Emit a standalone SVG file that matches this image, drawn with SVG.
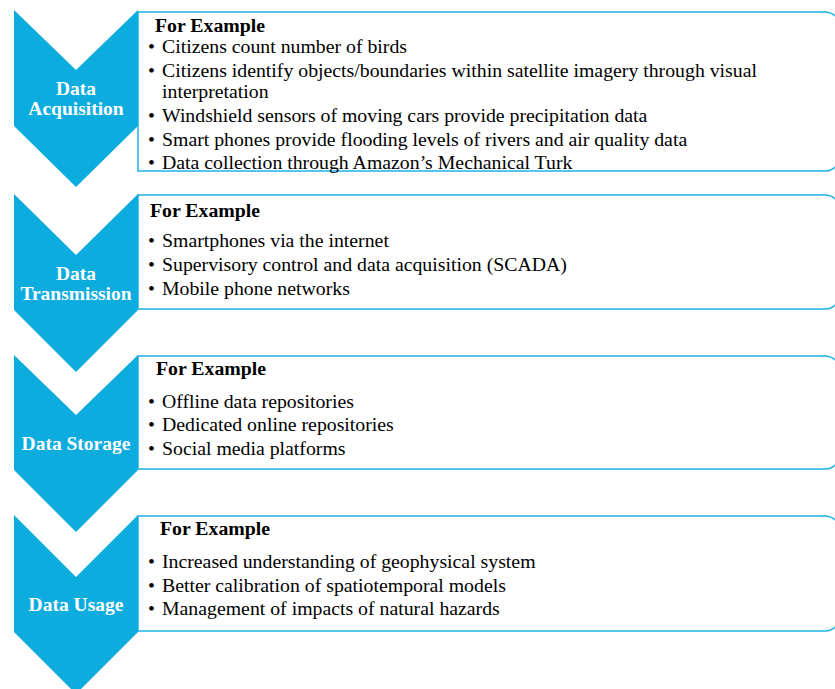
<svg xmlns="http://www.w3.org/2000/svg" width="835" height="689" viewBox="0 0 835 689">
<style>
.chev{fill:#0DACDF;stroke:none}
.box{fill:#ffffff;stroke:#1DB2E6;stroke-width:1.5}
.lbl{font-family:"Liberation Serif","Times New Roman",serif;font-weight:bold;font-size:19.5px;fill:#ffffff;text-anchor:middle}
.hd{font-family:"Liberation Serif","Times New Roman",serif;font-weight:bold;font-size:19.8px;fill:#000000}
.it{font-family:"Liberation Serif","Times New Roman",serif;font-size:19.8px;fill:#000000}
</style>
<rect width="835" height="689" fill="#ffffff"/>
<g id="connectors"></g>
<g id="box1">
<path class="box" d="M138,12 H825 A15,15 0 0 1 840,27 V156 A15,15 0 0 1 825,171 H138 Z"/>
<text class="hd" x="155" y="32">For Example</text>
<text class="it" x="148" y="52.5">•</text><text class="it" x="162" y="52.5">Citizens count number of birds</text>
<text class="it" x="148" y="76.5">•</text><text class="it" x="162" y="76.5">Citizens identify objects/boundaries within satellite imagery through visual</text>
<text class="it" x="162" y="97.5">interpretation</text>
<text class="it" x="148" y="121.5">•</text><text class="it" x="162" y="121.5">Windshield sensors of moving cars provide precipitation data</text>
<text class="it" x="148" y="145.5">•</text><text class="it" x="162" y="145.5">Smart phones provide flooding levels of rivers and air quality data</text>
<text class="it" x="148" y="168.5">•</text><text class="it" x="162" y="168.5">Data collection through Amazon’s Mechanical Turk</text>
</g>
<g id="box2">
<path class="box" d="M138,195 H825 A15,15 0 0 1 840,210 V294 A15,15 0 0 1 825,309 H138 Z"/>
<text class="hd" x="150" y="217">For Example</text>
<text class="it" x="148" y="246.5">•</text><text class="it" x="162" y="246.5">Smartphones via the internet</text>
<text class="it" x="148" y="270.5">•</text><text class="it" x="162" y="270.5">Supervisory control and data acquisition (SCADA)</text>
<text class="it" x="148" y="295">•</text><text class="it" x="162" y="295">Mobile phone networks</text>
</g>
<g id="box3">
<path class="box" d="M138,356 H825 A15,15 0 0 1 840,371 V454 A15,15 0 0 1 825,469 H138 Z"/>
<text class="hd" x="156" y="375">For Example</text>
<text class="it" x="148" y="407.5">•</text><text class="it" x="162" y="407.5">Offline data repositories</text>
<text class="it" x="148" y="431">•</text><text class="it" x="162" y="431">Dedicated online repositories</text>
<text class="it" x="148" y="455">•</text><text class="it" x="162" y="455">Social media platforms</text>
</g>
<g id="box4">
<path class="box" d="M138,516 H825 A15,15 0 0 1 840,531 V616 A15,15 0 0 1 825,631 H138 Z"/>
<text class="hd" x="160" y="535">For Example</text>
<text class="it" x="148" y="567.5">•</text><text class="it" x="162" y="567.5">Increased understanding of geophysical system</text>
<text class="it" x="148" y="591.5">•</text><text class="it" x="162" y="591.5">Better calibration of spatiotemporal models</text>
<text class="it" x="148" y="615">•</text><text class="it" x="162" y="615">Management of impacts of natural hazards</text>
</g>
<g id="chev1">
<polygon class="chev" points="14,10 76,70 138,10 138,126 76,187 14,126"/>
<text class="lbl" x="76" y="94.5">Data</text>
<text class="lbl" x="76" y="115">Acquisition</text>
</g>
<g id="chev2">
<polygon class="chev" points="14,194 76,255 138,194 138,310 76,372 14,310"/>
<text class="lbl" x="76" y="279.5">Data</text>
<text class="lbl" x="76" y="299.5">Transmission</text>
</g>
<g id="chev3">
<polygon class="chev" points="14,355 76,415 138,355 138,470 76,532 14,470"/>
<text class="lbl" x="76" y="449.5">Data Storage</text>
</g>
<g id="chev4">
<polygon class="chev" points="14,515 76,577 138,515 138,632 76,694 14,632"/>
<text class="lbl" x="76" y="610.5">Data Usage</text>
</g>
</svg>
